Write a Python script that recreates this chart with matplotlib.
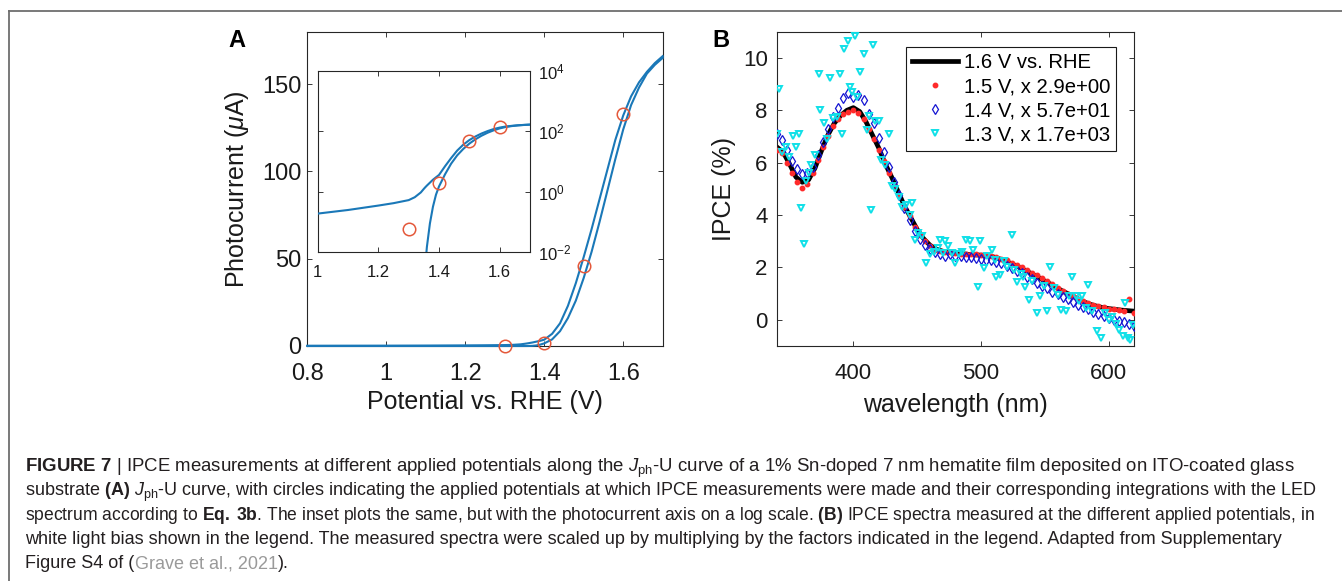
import matplotlib
matplotlib.use('Agg')
import numpy as np
import matplotlib.pyplot as plt
from matplotlib.lines import Line2D
from matplotlib.ticker import NullLocator, FixedLocator

plt.rcParams['font.family'] = ['Liberation Sans', 'DejaVu Sans']
plt.rcParams['mathtext.fontset'] = 'custom'
plt.rcParams['mathtext.rm'] = 'Liberation Sans'
plt.rcParams['mathtext.it'] = 'Liberation Sans:italic'
plt.rcParams['mathtext.bf'] = 'Liberation Sans:bold'
plt.rcParams['mathtext.sf'] = 'Liberation Sans'

# ---------------- Panel A data ----------------
potential = [0.80, 0.90, 1.00, 1.10, 1.20, 1.25, 1.30, 1.32, 1.34, 1.35, 1.355, 1.36, 1.37,
             1.38, 1.39, 1.40, 1.42, 1.44, 1.46, 1.48, 1.50, 1.52, 1.54, 1.56, 1.58,
             1.60, 1.62, 1.64, 1.66, 1.68, 1.70]
current_fwd = [0.14, 0.17, 0.19, 0.25, 0.35, 0.42, 0.53, 0.66, 0.95, 1.25, 1.42, 1.6, 2.0,
               2.5, 3.0, 3.6, 7.0, 13.0, 23.0, 36.0, 51.0, 67.0, 84.0, 101.0, 118.0,
               132.0, 143.0, 151.0, 157.0, 162.0, 166.0]
current_rev = [0.0, 0.0, 0.0, 0.0, 0.0, 0.0, 0.0, 0.0, 0.0, 0.0, 0.004, 0.015, 0.09,
               0.32, 0.8, 1.5, 3.8, 8.5, 16.0, 26.0, 39.0, 54.0, 71.0, 89.0, 107.0,
               124.0, 138.0, 148.0, 156.0, 161.0, 165.0]
ipce_potentials = [1.3, 1.4, 1.5, 1.6]
ipce_currents = [0.06, 2.0, 46.0, 133.0]

# ---------------- Panel B data ----------------
wl_16 = [340, 345, 350, 355, 360, 365, 370, 375, 380, 385, 390, 395, 400, 405, 410, 415,
         420, 425, 430, 435, 440, 445, 450, 455, 460, 465, 470, 475, 480, 485, 490, 495,
         500, 505, 510, 515, 520, 525, 530, 535, 540, 545, 550, 555, 560, 565, 570, 575,
         580, 585, 590, 595, 600, 605, 610, 615, 620]
ipce_16 = [6.6, 6.4, 5.95, 5.45, 5.25, 5.35, 5.8, 6.45, 7.05, 7.5, 7.8, 8.0, 8.1, 7.95,
           7.55, 7.05, 6.55, 5.95, 5.45, 4.9, 4.35, 3.9, 3.45, 3.1, 2.85, 2.7, 2.62, 2.58,
           2.55, 2.53, 2.5, 2.48, 2.47, 2.44, 2.4, 2.32, 2.22, 2.12, 2.0, 1.88, 1.75, 1.62,
           1.48, 1.35, 1.2, 1.07, 0.95, 0.82, 0.7, 0.6, 0.53, 0.47, 0.43, 0.4, 0.37, 0.35,
           0.33]

wl_scan = [340, 344, 348, 352, 356, 360, 364, 368, 372, 376, 380, 384, 388, 392, 396, 400,
           404, 408, 412, 416, 420, 424, 428, 432, 436, 440, 444, 448, 452, 456, 460, 464,
           468, 472, 476, 480, 484, 488, 492, 496, 500, 504, 508, 512, 516, 520, 524, 528,
           532, 536, 540, 544, 548, 552, 556, 560, 564, 568, 572, 576, 580, 584, 588, 592,
           596, 600, 604, 608, 612, 616, 620]
ipce_15 = [6.5, 6.35, 6.0, 5.6, 5.25, 5.05, 5.2, 5.6, 6.1, 6.6, 7.0, 7.4, 7.65, 7.85, 7.95,
           8.0, 7.9, 7.65, 7.3, 6.9, 6.5, 6.05, 5.6, 5.15, 4.75, 4.3, 3.95, 3.55, 3.25, 3.0,
           2.8, 2.68, 2.62, 2.6, 2.57, 2.55, 2.53, 2.52, 2.5, 2.5, 2.48, 2.46, 2.42, 2.38,
           2.33, 2.27, 2.18, 2.1, 2.0, 1.9, 1.8, 1.7, 1.58, 1.47, 1.35, 1.22, 1.1, 1.0, 0.9,
           0.8, 0.72, 0.64, 0.58, 0.52, 0.47, 0.43, 0.4, 0.36, 0.34, 0.78, 0.27]
ipce_14 = [7.1, 6.85, 6.5, 6.05, 5.75, 5.55, 5.6, 5.85, 6.3, 6.8, 7.3, 7.75, 8.1, 8.45, 8.65,
           8.5, 8.6, 8.4, 7.85, 7.5, 6.95, 6.4, 5.85, 5.25, 4.75, 4.25, 3.8, 3.4, 3.1, 2.85,
           2.7, 2.6, 2.5, 2.45, 2.5, 2.45, 2.42, 2.4, 2.38, 2.35, 2.33, 2.3, 2.28, 2.22,
           2.15, 2.05, 1.97, 1.87, 1.77, 1.65, 1.55, 1.42, 1.3, 1.2, 1.08, 0.97, 0.88, 0.78,
           0.68, 0.58, 0.5, 0.4, 0.3, 0.22, 0.14, 0.07, 0.0, -0.05, -0.1, -0.15, -0.22]

wl_13 = [340.5, 342, 344, 347, 349.5, 353, 355, 357.5, 359, 361.5, 363, 365, 367, 370, 373,
         374, 377, 379.5, 381.5, 384, 387, 389.5, 391, 393, 395.5, 397, 399, 401, 403, 405,
         408, 410.5, 412, 414, 415.5, 417, 420, 422, 425, 428, 430, 433, 436, 438, 441,
         444, 446, 448, 451, 454, 457, 460, 463, 466, 467.5, 470, 472, 474, 477, 480, 483,
         485, 488, 491, 494, 497.5, 499, 502, 505, 508.5, 511, 512, 515, 518, 520, 524,
         526, 528, 531, 533, 534.5, 537.5, 540, 544, 546, 549, 552, 554, 557, 560, 563,
         566.5, 569, 571, 574.5, 577, 579, 582, 584, 587, 590.5, 594, 597, 600, 603, 606,
         608, 611.5, 613, 614.8, 616.5, 619]
ipce_13 = [7.1, 8.8, 6.4, 6.6, 6.2, 7.0, 6.6, 7.1, 4.25, 2.9, 5.3, 5.6, 5.9, 6.3, 9.4,
           8.0, 7.5, 6.9, 9.25, 7.7, 7.75, 9.4, 7.1, 10.35, 10.65, 8.9, 8.7, 10.85, 8.5, 9.45,
           10.15, 7.25, 7.8, 4.2, 10.5, 7.6, 7.6, 6.1, 5.9, 7.1, 5.1, 5.0, 4.7, 4.3, 4.4,
           4.0, 4.45, 3.05, 3.3, 3.2, 2.15, 2.5, 2.6, 2.75, 3.05, 2.55, 3.0, 2.8, 2.55, 2.15,
           2.5, 2.6, 3.05, 3.0, 2.65, 1.27, 3.0, 1.97, 2.45, 2.65, 2.3, 1.65, 1.7, 2.25, 2.03,
           3.25, 1.9, 1.46, 1.75, 1.65, 1.27, 0.76, 1.5, 0.25, 0.89, 1.3, 0.32, 2.03, 1.2,
           0.95, 0.38, 0.32, 0.9, 1.65, 0.89, 0.7, 0.89, 0.45, 1.33, 0.35, -0.44, -0.7, 0.25,
           0.0, 0.1, -0.15, -0.38, -0.63, 0.63, -0.7, -0.76, -0.2]

legend_labels = ['1.6 V vs. RHE', '1.5 V, x 2.9e+00', '1.4 V, x 5.7e+01', '1.3 V, x 1.7e+03']

W, H = 1342, 581
fig = plt.figure(figsize=(W / 100, H / 100), dpi=100)

def fx(px):
    return px / W

def fy(py):
    return 1 - py / H

curve_color = '#1a78b8'
circle_color = '#e4583a'
spine_color = '#262626'

def style_axes(ax, fs, pad_x, pad_y):
    for s in ax.spines.values():
        s.set_color(spine_color)
        s.set_linewidth(0.8)
    ax.tick_params(direction='in', length=3.6, width=0.6, top=True, right=True,
                   labelsize=fs, colors='#1a1a1a')
    ax.tick_params(axis='x', pad=pad_x)
    ax.tick_params(axis='y', pad=pad_y)

# ---------------- Panel A ----------------
axA = fig.add_axes([fx(307.3), fy(346), fx(662.7 - 307.3), (346 - 31.7) / H])
axA.plot(potential, current_fwd, color=curve_color, lw=1.5, clip_on=False, zorder=3)
axA.plot(potential, current_rev, color=curve_color, lw=1.5, clip_on=False, zorder=3)
axA.plot(ipce_potentials, ipce_currents, 'o', ms=9, mfc='none', mec=circle_color, mew=1.1,
         clip_on=False, zorder=4)
axA.set_xlim(0.8, 1.7)
axA.set_ylim(0, 180)
axA.set_xticks([0.8, 1.0, 1.2, 1.4, 1.6])
axA.set_xticklabels(['0.8', '1', '1.2', '1.4', '1.6'])
axA.set_yticks([0, 50, 100, 150])
style_axes(axA, 17, 12, 4)
axA.set_xlabel('Potential vs. RHE (V)', fontsize=18, color='#1a1a1a')
axA.set_ylabel(r'Photocurrent ($\mu$A)', fontsize=18, color='#1a1a1a')
axA.xaxis.set_label_coords(0.5, -0.14)
axA.yaxis.set_label_coords(-0.158, 0.5)

# Inset
axI = fig.add_axes([fx(317.7), fy(252.3), fx(530 - 317.7), (252.3 - 70.7) / H])
axI.plot(potential, current_fwd, color=curve_color, lw=1.5, zorder=3)
axI.plot(potential, current_rev, color=curve_color, lw=1.5, zorder=3)
axI.plot(ipce_potentials, ipce_currents, 'o', ms=9, mfc='none', mec=circle_color, mew=1.1,
         zorder=4)
axI.set_yscale('log')
axI.set_xlim(1.0, 1.7)
axI.set_ylim(1e-2, 1e4)
axI.set_xticks([1.0, 1.2, 1.4, 1.6])
axI.set_xticklabels(['1', '1.2', '1.4', '1.6'])
axI.yaxis.set_major_locator(FixedLocator([1e-2, 1, 1e2, 1e4]))
axI.yaxis.set_minor_locator(NullLocator())
axI.set_yticklabels([r'$10^{-2}$', r'$10^{0}$', r'$10^{2}$', r'$10^{4}$'])
style_axes(axI, 12, 9, 6)
axI.tick_params(axis='y', labelleft=False, labelright=True)

fig.text(fx(228), fy(47), 'A', fontsize=17, fontweight='bold', va='baseline', ha='left')

# ---------------- Panel B ----------------
axB = fig.add_axes([fx(777.4), fy(346), fx(1134.2 - 777.4), (346 - 31.7) / H])
axB.plot(wl_16, ipce_16, color='black', lw=3.4, label=legend_labels[0], zorder=2)
axB.plot(wl_scan, ipce_15, 'o', ms=3.2, color='#ff2a2a', mec='#ff2a2a',
         label=legend_labels[1], zorder=3)
axB.plot(wl_scan, ipce_14, 'd', ms=5.2, mfc='none', mec='#1414d2', mew=0.9,
         label=legend_labels[2], zorder=4)
axB.plot(wl_13, ipce_13, 'v', ms=4.8, mfc='none', mec='#10e0e8', mew=1.4,
         label=legend_labels[3], zorder=5)
axB.set_xlim(340.5, 620)
axB.set_ylim(-1, 11)
axB.set_xticks([400, 500, 600])
axB.set_yticks([0, 2, 4, 6, 8, 10])
style_axes(axB, 16, 12, 7)
axB.set_xlabel('wavelength (nm)', fontsize=18, color='#1a1a1a')
axB.set_ylabel('IPCE (%)', fontsize=18, color='#1a1a1a')
axB.xaxis.set_label_coords(0.5, -0.15)
axB.yaxis.set_label_coords(-0.116, 0.5)
leg = axB.legend(loc='upper right', bbox_to_anchor=(fx(1116), fy(47.3)),
                 bbox_transform=fig.transFigure, borderaxespad=0, fontsize=14.6,
                 frameon=True, fancybox=False, edgecolor='#1a1a1a', framealpha=1,
                 handlelength=2.3, handletextpad=0.25, labelspacing=0.25,
                 borderpad=0.3)
leg.get_frame().set_linewidth(0.8)
fig.text(fx(712), fy(47), 'B', fontsize=17, fontweight='bold', va='baseline', ha='left')

# ---------------- frame ----------------
frame_kw = dict(color='#6e6e6e', lw=1.3, transform=fig.transFigure)
fig.add_artist(Line2D([fx(9.3), 1.0], [fy(11), fy(11)], **frame_kw))
fig.add_artist(Line2D([fx(9.3), fx(9.3)], [fy(11), 0.0], **frame_kw))

# ---------------- caption ----------------
cap_color = '#231f20'
lines = [
    r'$\mathbf{FIGURE}$ $\mathbf{7}$ | IPCE measurements at different applied potentials along the '
    r'$J_{\mathrm{ph}}$-U curve of a 1% Sn-doped 7 nm hematite film deposited on ITO-coated glass',
    r'substrate $\mathbf{(A)}$ $J_{\mathrm{ph}}$-U curve, with circles indicating the applied '
    r'potentials at which IPCE measurements were made and their corresponding integrations with the LED',
    r'spectrum according to $\mathbf{Eq.\;3b}$. The inset plots the same, but with the photocurrent '
    r'axis on a log scale. $\mathbf{(B)}$ IPCE spectra measured at the different applied potentials, in',
    'white light bias shown in the legend. The measured spectra were scaled up by multiplying by '
    'the factors indicated in the legend. Adapted from Supplementary',
]
line_ends = [1295, 1322, 1320, 1286]
baselines = [472, 496.1, 520.2, 544.3, 568.4]
x0 = 25
base_fs = 11.7

renderer = fig.canvas.get_renderer()
sizes = []
for s, b, e in zip(lines, baselines, line_ends):
    t = fig.text(fx(x0), fy(b), s, fontsize=base_fs, color=cap_color, va='baseline', ha='left')
    w = t.get_window_extent(renderer).width
    fs = base_fs * (e - x0) / w
    t.set_fontsize(fs)
    sizes.append(fs)

cap_fs = float(np.median(sizes))
t1 = fig.text(fx(x0), fy(baselines[4]), 'Figure S4 of (', fontsize=cap_fs, color=cap_color,
              va='baseline', ha='left')
w1 = t1.get_window_extent(renderer).width
t2 = fig.text(fx(x0 + w1 + 0.5), fy(baselines[4]), 'Grave et al., 2021', fontsize=cap_fs,
              color='#9a9a9a', va='baseline', ha='left')
w2 = t2.get_window_extent(renderer).width
fig.text(fx(x0 + w1 + w2 + 1), fy(baselines[4]), ').', fontsize=cap_fs, color=cap_color,
         va='baseline', ha='left')

fig.savefig('out.png', dpi=100, facecolor='white')
